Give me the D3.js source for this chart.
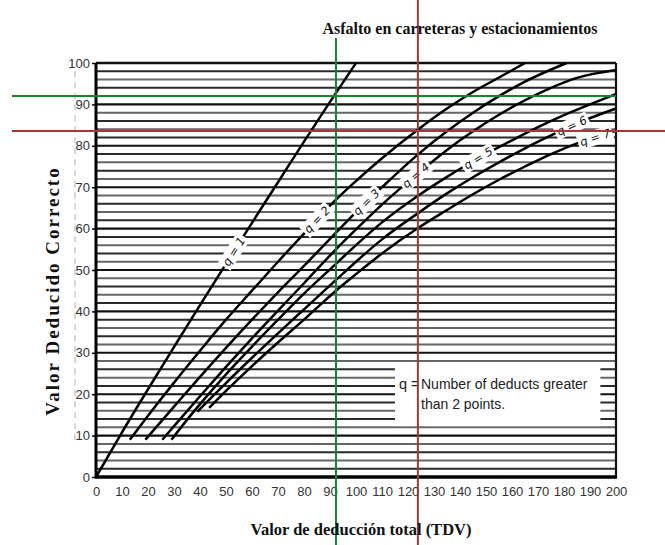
<!DOCTYPE html>
<html>
<head>
<meta charset="utf-8">
<script src="https://cdn.jsdelivr.net/npm/d3@7"></script>
<style>
  html, body { margin: 0; padding: 0; background: #fff; }
  svg { display: block; }
</style>
</head>
<body>
<svg id="chart" width="665" height="545"></svg>
<script>
// ---------- data ----------
const xTickValues = d3.range(0, 201, 10);
const yTickValues = d3.range(0, 101, 10);
const gridValues = d3.range(2, 100, 2);

const seriesNames = ["q = 1", "q = 2", "q = 3", "q = 4", "q = 5", "q = 6", "q = 7"];

const q1 = [[0,0],[10,10.8],[20,21.2],[30,31.4],[40,41.5],[50,51.5],[60,61.4],[70,71.2],[80,81],[90,90.6],[100,100]];
const q2 = [[13,9],[20,14.8],[30,22.8],[40,30.5],[50,38],[60,45],[70,52],[80,58.8],[92.3,67],[100,71.5],[110,77],[124,84],[135,89],[145,93],[155,96.5],[165,100]];
const q3 = [[19,9],[30,17],[40,24.2],[50,31.2],[60,38],[70,44.6],[80,51],[92.3,59],[100,64],[110,70],[124,78],[135,83.5],[145,88],[155,92],[165,95.5],[181,100]];
const q4 = [[25.5,9],[30,12.3],[40,19.5],[50,26.6],[60,33.5],[70,40.2],[80,46.8],[92.3,55],[100,59.8],[110,65.8],[124,73.4],[135,79],[145,83.5],[155,87.5],[165,91],[175,94],[185,96.4],[200,98.3]];
const q5 = [[29,9],[35,13.8],[40,17.6],[50,24.8],[60,31.5],[70,38],[80,44.3],[92.3,51.5],[100,56],[110,61.5],[124,68],[135,72.5],[147,77],[160,81.3],[170,84.5],[180,87.4],[190,90],[200,92.5]];
const q6 = [[39,15.8],[45,19.6],[50,22.7],[60,28.8],[70,34.7],[80,40.5],[92.3,47.6],[100,52],[110,57.4],[124,63.8],[135,68.5],[145,72.4],[155,76],[165,79.4],[175,82.5],[185,85.4],[200,89]];
const q7 = [[43.5,16.7],[50,20.8],[60,26.8],[70,32.5],[80,38],[92.3,45],[100,49],[110,54],[124,60.2],[135,64.5],[145,68.3],[155,71.8],[165,75],[175,78],[185,80.6],[200,83.6]];
const seriesData = [q1, q2, q3, q4, q5, q6, q7];
// x position (TDV) along each curve where its label sits
const labelAt = [53, 85, 104, 123, 147, 183, 192];

// reference reading lines
const greenTDV = 92.3, greenCDV = 92;
const redTDV = 123.8, redCDV = 83.6;

const titleText = "Asfalto en carreteras y estacionamientos";
const xTitle = "Valor de deducción total (TDV)";
const yTitle = "Valor Deducido Correcto";
const noteLines = ["Number of deducts greater", "than 2 points."];

// ---------- drawing ----------
const svg = d3.select("#chart");
const x = d3.scaleLinear().domain([0, 200]).range([96, 616]);
const y = d3.scaleLinear().domain([0, 100]).range([477, 63]);
const narrow = "'Liberation Sans Narrow', 'Arial Narrow', 'Liberation Sans', Arial, sans-serif";
const serif = "'Liberation Serif', 'Times New Roman', serif";

svg.append("rect").attr("width", 665).attr("height", 545).attr("fill", "#fff");

// faint dashed guide left of the axis
svg.append("line")
  .attr("x1", 75).attr("x2", 75).attr("y1", y(98)).attr("y2", y(8))
  .attr("stroke", "#bbb").attr("stroke-width", 1.2).attr("stroke-dasharray", "6,5");

// horizontal grid lines
svg.append("g").selectAll("line").data(gridValues).join("line")
  .attr("x1", x(0)).attr("x2", x(200))
  .attr("y1", d => y(d)).attr("y2", d => y(d))
  .attr("stroke", (d, i) => d % 10 === 0 ? "#111" : (i % 2 === 0 ? "#2a2a2a" : "#666"))
  .attr("stroke-width", d => d % 10 === 0 ? 2.1 : 2);

// note box
const note = svg.append("g");
note.append("rect")
  .attr("x", x(115)).attr("y", y(27))
  .attr("width", x(194) - x(115)).attr("height", y(12.3) - y(27))
  .attr("fill", "#fff");
note.append("text").attr("x", x(116.5)).attr("y", y(21.3))
  .attr("font-family", narrow).attr("font-size", 14.5).attr("fill", "#222").text("q =");
note.selectAll("text.n").data(noteLines).join("text").attr("class", "n")
  .attr("x", x(125)).attr("y", (d, i) => y(21.3) + i * 20)
  .attr("font-family", narrow).attr("font-size", 14).attr("fill", "#222").text(d => d);

// frame
svg.append("line").attr("x1", x(0)).attr("x2", x(200)).attr("y1", y(100)).attr("y2", y(100))
  .attr("stroke", "#111").attr("stroke-width", 2.4);
svg.append("line").attr("x1", x(200)).attr("x2", x(200)).attr("y1", y(100)).attr("y2", y(0))
  .attr("stroke", "#111").attr("stroke-width", 2.2);

// curves
const line = d3.line().x(d => x(d[0])).y(d => y(d[1])).curve(d3.curveMonotoneX);
svg.append("g").selectAll("path").data(seriesData).join("path")
  .attr("d", line).attr("fill", "none").attr("stroke", "#000").attr("stroke-width", 2.5);

// curve labels
function pointOn(pts, tx) {
  for (let i = 0; i < pts.length - 1; i++) {
    const a = pts[i], b = pts[i + 1];
    if (tx >= a[0] && tx <= b[0]) {
      const t = (tx - a[0]) / (b[0] - a[0]);
      return { px: x(a[0] + t * (b[0] - a[0])), py: y(a[1] + t * (b[1] - a[1])),
               ang: Math.atan2(y(b[1]) - y(a[1]), x(b[0]) - x(a[0])) * 180 / Math.PI };
    }
  }
  const a = pts[pts.length - 2], b = pts[pts.length - 1];
  return { px: x(b[0]), py: y(b[1]), ang: Math.atan2(y(b[1]) - y(a[1]), x(b[0]) - x(a[0])) * 180 / Math.PI };
}
const lab = svg.append("g").selectAll("g").data(seriesNames).join("g")
  .attr("transform", (d, i) => {
    const p = pointOn(seriesData[i], labelAt[i]);
    return `translate(${p.px},${p.py}) rotate(${p.ang})`;
  });
lab.append("rect").attr("x", -18).attr("y", -7.5).attr("width", 36).attr("height", 15).attr("fill", "#fff");
lab.append("text").attr("text-anchor", "middle").attr("dy", "0.35em")
  .attr("font-family", "'DejaVu Sans', sans-serif").attr("font-style", "italic")
  .attr("font-size", 11.5).attr("fill", "#111").text(d => d);

// axes (left and bottom heavy lines)
svg.append("line").attr("x1", x(0)).attr("x2", x(0)).attr("y1", y(100)).attr("y2", y(0))
  .attr("stroke", "#000").attr("stroke-width", 3);
svg.append("line").attr("x1", x(0) - 1).attr("x2", x(200) + 1).attr("y1", y(0)).attr("y2", y(0))
  .attr("stroke", "#000").attr("stroke-width", 3.5);

const xAxis = d3.axisBottom(x).tickValues(xTickValues).tickSize(0).tickPadding(10);
const gx = svg.append("g").attr("transform", `translate(0,${y(0)})`).call(xAxis);
gx.select(".domain").remove();
gx.selectAll("text").attr("font-family", narrow).attr("font-size", 13).attr("fill", "#333");

const yAxis = d3.axisLeft(y).tickValues(yTickValues).tickSize(4).tickPadding(2);
const gy = svg.append("g").attr("transform", `translate(${x(0)},0)`).call(yAxis);
gy.select(".domain").remove();
gy.selectAll("line").attr("stroke", "#000").attr("stroke-width", 1.5);
gy.selectAll("text").attr("font-family", narrow).attr("font-size", 13).attr("fill", "#333");

// reading lines
svg.append("line").attr("x1", x(redTDV)).attr("x2", x(redTDV)).attr("y1", 0).attr("y2", 545)
  .attr("stroke", "#a33a35").attr("stroke-width", 2);
svg.append("line").attr("x1", 12).attr("x2", 665).attr("y1", y(redCDV)).attr("y2", y(redCDV))
  .attr("stroke", "#a33a35").attr("stroke-width", 2);
svg.append("line").attr("x1", x(greenTDV)).attr("x2", x(greenTDV)).attr("y1", 38).attr("y2", 545)
  .attr("stroke", "#17852a").attr("stroke-width", 2);
svg.append("line").attr("x1", 12).attr("x2", x(200)).attr("y1", y(greenCDV)).attr("y2", y(greenCDV))
  .attr("stroke", "#17852a").attr("stroke-width", 2);

// titles
svg.append("text").attr("x", 460).attr("y", 34).attr("text-anchor", "middle")
  .attr("font-family", serif).attr("font-weight", "bold")
  .attr("font-size", 16).attr("fill", "#111").text(titleText);
svg.append("text").attr("x", 361).attr("y", 535).attr("text-anchor", "middle")
  .attr("font-family", serif).attr("font-weight", "bold")
  .attr("font-size", 16.5).attr("fill", "#111").text(xTitle);
svg.append("text").attr("transform", "translate(59,291) rotate(-90)").attr("text-anchor", "middle")
  .attr("font-family", serif).attr("font-weight", "bold")
  .attr("font-size", 19).attr("letter-spacing", 2).attr("fill", "#111").text(yTitle);
</script>
</body>
</html>
